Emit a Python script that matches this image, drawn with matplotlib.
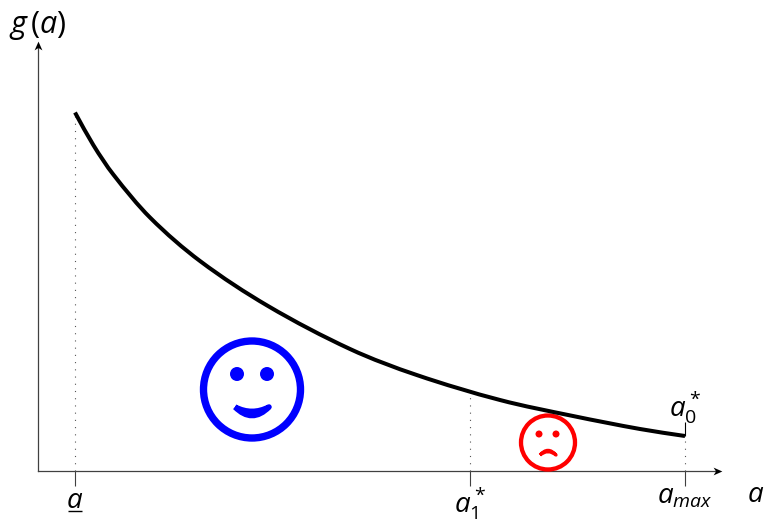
import matplotlib
matplotlib.use('Agg')
import matplotlib.pyplot as plt
from matplotlib.patches import Circle, PathPatch
from matplotlib.path import Path

plt.rcParams['font.family'] = ['Open Sans', 'DejaVu Sans']
plt.rcParams['mathtext.fontset'] = 'custom'
plt.rcParams['mathtext.rm'] = 'Open Sans'
plt.rcParams['mathtext.it'] = 'Open Sans:italic'
plt.rcParams['mathtext.bf'] = 'Open Sans:bold'

# curve
curve_a = [37, 55.3, 75.3, 112, 162, 230, 312, 378.7, 462, 535, 602, 647]
curve_g = [358.5, 326, 296.5, 253.5, 210, 165, 122, 96, 71, 55, 42, 35]

tick_pos = [37, 432, 647]
tick_tops = [358.5, 81, 35]
tick_labels = [r'$a$', r'$a_1^*$', r'$a_{max}$']
label_base = [-37, -42, -32]

W, H = 765, 523
fig = plt.figure(figsize=(W / 100, H / 100), dpi=100)
ax = fig.add_axes([38 / W, (H - 471) / H, 683 / W, 429 / H])
ax.set_xlim(0, 683)
ax.set_ylim(0, 429)
ax.axis('off')

axis_col = '#404040'

# axes with small stealth arrow heads
head_r = [(1, 0), (-0.8, 0.8), (-0.3, 0), (-0.8, -0.8), (1, 0)]
head_u = [(0, 1), (0.8, -0.8), (0, -0.3), (-0.8, -0.8), (0, 1)]
ax.plot([0, 680], [0, 0], color=axis_col, lw=0.9, clip_on=False)
ax.plot([0, 0], [0, 426], color=axis_col, lw=0.9, clip_on=False)
ax.plot([679], [0], marker=head_r, ms=7, color='black', mew=0, clip_on=False)
ax.plot([0], [425], marker=head_u, ms=7, color='black', mew=0, clip_on=False)

# ticks and dotted guides
for p, top, lab, base in zip(tick_pos, tick_tops, tick_labels, label_base):
    ax.plot([p, p], [0, -15], color=axis_col, lw=0.8, clip_on=False, solid_capstyle='butt')
    ax.plot([p, p], [0, top], color='#555555', lw=0.8, ls=(0, (1, 5.5)), clip_on=False)
    ax.text(p, base, lab, fontsize=20, ha='center', va='baseline', clip_on=False)

# underline of the lower bound
ax.plot([30, 44], [-40, -40], color='black', lw=1.0, clip_on=False, solid_capstyle='butt')

# short tick above the end of the curve
ax.plot([647, 647], [35, 49], color='black', lw=0.8, solid_capstyle='butt')

# smooth line through the read points
n = len(curve_a)
slopes = []
for i in range(n):
    j, k = max(i - 1, 0), min(i + 1, n - 1)
    slopes.append((curve_g[k] - curve_g[j]) / (curve_a[k] - curve_a[j]))
verts = [(curve_a[0], curve_g[0])]
codes = [Path.MOVETO]
for i in range(n - 1):
    dx = (curve_a[i + 1] - curve_a[i]) / 3
    verts += [(curve_a[i] + dx, curve_g[i] + slopes[i] * dx),
              (curve_a[i + 1] - dx, curve_g[i + 1] - slopes[i + 1] * dx),
              (curve_a[i + 1], curve_g[i + 1])]
    codes += [Path.CURVE4] * 3
ax.add_patch(PathPatch(Path(verts, codes), fill=False, ec='black', lw=2.9, capstyle='butt', zorder=4))

# happy face
ax.add_patch(Circle((214, 81.5), 48.5, fill=False, ec='#0000ff', lw=5.3, zorder=3))
ax.add_patch(Circle((199, 97), 7, fc='#0000ff', ec='none', zorder=3))
ax.add_patch(Circle((229, 97), 7, fc='#0000ff', ec='none', zorder=3))
smile = Path([(197, 64), (214, 55.2), (231, 64), (214, 46.8), (197, 64)],
             [Path.MOVETO, Path.CURVE3, Path.CURVE3, Path.CURVE3, Path.CURVE3])
ax.add_patch(PathPatch(smile, fc='#0000ff', ec='#0000ff', lw=4, joinstyle='round', zorder=3))

# sad face
ax.add_patch(Circle((510, 28.5), 27, fill=False, ec='#ff0000', lw=3.1, zorder=3, clip_on=False))
ax.add_patch(Circle((501, 37), 3.5, fc='#ff0000', ec='none', zorder=3))
ax.add_patch(Circle((518, 37), 3.5, fc='#ff0000', ec='none', zorder=3))
frown = Path([(502, 16), (510, 25.2), (518, 16), (510, 22.8), (502, 16)],
             [Path.MOVETO, Path.CURVE3, Path.CURVE3, Path.CURVE3, Path.CURVE3])
ax.add_patch(PathPatch(frown, fc='#ff0000', ec='#ff0000', lw=2.4, joinstyle='round', zorder=3))

# remaining labels
ax.text(718, -31, r'$a$', fontsize=20, ha='center', va='baseline', clip_on=False)
ax.text(647, 54, r'$a_0^*$', fontsize=20, ha='center', va='baseline')
ax.text(0, 438, r'$g\,(a)$', fontsize=22, ha='center', va='baseline', clip_on=False)

fig.savefig('out.png', dpi=100)
